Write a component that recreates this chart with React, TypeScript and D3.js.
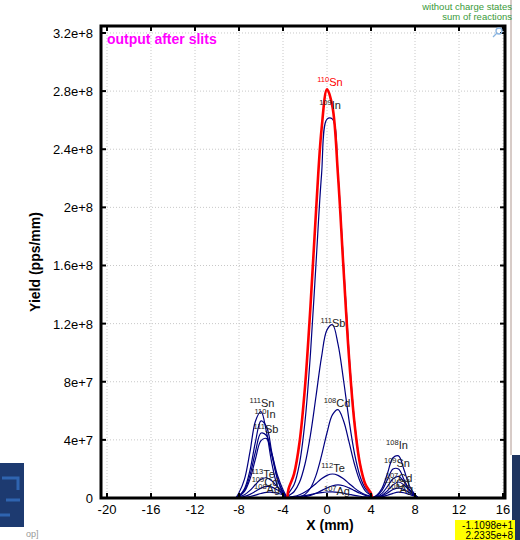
import React from "react";
import * as d3 from "d3";

const W = 520;
const H = 540;
const box = { left: 101, right: 505, top: 26, bottom: 498 };

const xTicks = [-20, -16, -12, -8, -4, 0, 4, 8, 12, 16];
const yTicks = [0, 4e7, 8e7, 1.2e8, 1.6e8, 2e8, 2.4e8, 2.8e8, 3.2e8];

// sample positions (mm) inside the three slit windows
const xLeft = [-8.3, -8, -7.5, -7, -6.5, -6, -5.5, -5, -4.5, -4, -3.6];
const xMid = [-3.6, -3.5, -3, -2.5, -2, -1.5, -1, -0.5, 0, 0.5, 1, 1.5, 2, 2.5, 3, 3.5, 4, 4.1];
const xRight = [4.0, 4.5, 5, 5.5, 6, 6.5, 7, 7.5, 8, 8.3];

// yields (pps/mm)
const sn110 = [0, 6.1e6, 1.64e7, 3.82e7, 7.65e7, 1.323e8, 1.971e8, 2.535e8, 2.812e8, 2.69e8, 2.219e8, 1.579e8, 9.69e7, 5.13e7, 2.34e7, 9.2e6, 3.1e6, 0];
const in109 = [0, 2.95e6, 9.05e6, 2.37e7, 5.27e7, 9.98e7, 1.613e8, 2.222e8, 2.607e8, 2.607e8, 2.222e8, 1.613e8, 9.98e7, 5.27e7, 2.37e7, 9.05e6, 2.95e6, 0];
const sb111 = [0, 1.5e6, 4.3e6, 1.08e7, 2.34e7, 4.36e7, 7.0e7, 9.69e7, 1.157e8, 1.192e8, 1.059e8, 8.12e7, 5.36e7, 3.06e7, 1.5e7, 6.4e6, 2.3e6, 0];
const cd108 = [0, 4e4, 1.9e5, 7.7e5, 2.5e6, 6.9e6, 1.56e7, 2.91e7, 4.49e7, 5.74e7, 6.08e7, 5.32e7, 3.86e7, 2.32e7, 1.15e7, 4.7e6, 1.6e6, 0];
const te112 = [0, 4.7e5, 1.08e6, 2.23e6, 4.1e6, 6.8e6, 1.0e7, 1.32e7, 1.56e7, 1.65e7, 1.56e7, 1.32e7, 1.0e7, 6.8e6, 4.1e6, 2.23e6, 1.08e6, 0];
const ag107 = [0, 3.4e5, 6.4e5, 1.08e6, 1.68e6, 2.4e6, 3.14e6, 3.76e6, 4.13e6, 4.17e6, 3.86e6, 3.27e6, 2.55e6, 1.82e6, 1.19e6, 7.1e5, 3.9e5, 0];
const midOther = [0, 5e4, 1.5e5, 4.0e5, 9.1e5, 1.83e6, 3.24e6, 5.07e6, 6.97e6, 8.44e6, 9.0e6, 8.44e6, 6.97e6, 5.07e6, 3.24e6, 1.83e6, 9.1e5, 0];

const sn111L = [0, 3.6e6, 1.3e7, 3.19e7, 5.3e7, 5.95e7, 4.53e7, 2.33e7, 8.1e6, 1.9e6, 0];
const in110L = [0, 1.46e6, 6.4e6, 1.92e7, 3.88e7, 5.31e7, 4.91e7, 3.07e7, 1.3e7, 3.7e6, 0];
const sb111L = [0, 1.26e6, 5.4e6, 1.58e7, 3.2e7, 4.47e7, 4.3e7, 2.86e7, 1.31e7, 4.1e6, 0];
const leftOther = [0, 1.08e6, 4.5e6, 1.3e7, 2.7e7, 3.95e7, 4.09e7, 2.99e7, 1.55e7, 5.7e6, 0];
const te113L = [0, 7.9e5, 2.3e6, 5.25e6, 9.3e6, 1.29e7, 1.39e7, 1.17e7, 7.6e6, 3.9e6, 0];
const cd109L = [0, 3.7e5, 1.08e6, 2.5e6, 4.6e6, 6.8e6, 7.96e6, 7.44e6, 5.5e6, 3.3e6, 0];
const ag108L = [0, 1.6e5, 4.5e5, 1.05e6, 2.0e6, 3.07e6, 3.85e6, 3.93e6, 3.27e6, 2.2e6, 0];

const in108R = [0, 1.68e6, 6.7e6, 1.7e7, 2.77e7, 2.9e7, 1.94e7, 8.3e6, 2.3e6, 0];
const sn109R = [0, 1.38e6, 5.2e6, 1.27e7, 1.99e7, 1.99e7, 1.27e7, 5.2e6, 1.38e6, 0];
const cd107R = [0, 8.9e5, 3.2e6, 8.0e6, 1.32e7, 1.49e7, 1.13e7, 5.8e6, 2.0e6, 0];
const cd110R = [0, 4.8e5, 1.9e6, 5.0e6, 9.0e6, 1.1e7, 9.0e6, 5.0e6, 1.9e6, 0];
const ag108R = [0, 4.4e5, 1.47e6, 3.5e6, 5.9e6, 7.0e6, 5.9e6, 3.5e6, 1.47e6, 0];
const rightOther = [0, 2.6e5, 8.2e5, 1.9e6, 3.2e6, 3.98e6, 3.6e6, 2.4e6, 1.2e6, 0];

// isotope label: [mass, symbol, x (mm), yield]
type Lab = [string, string, number, number] | null;
const series: { xs: number[]; ys: number[]; red?: boolean; lab: Lab }[] = [
  { xs: xMid, ys: in109, lab: ["109", "In", 0.27, 2.677e8] },
  { xs: xMid, ys: sb111, lab: ["111", "Sb", 0.55, 1.177e8] },
  { xs: xMid, ys: cd108, lab: ["108", "Cd", 0.91, 6.26e7] },
  { xs: xMid, ys: te112, lab: ["112", "Te", 0.55, 1.79e7] },
  { xs: xMid, ys: midOther, lab: null },
  { xs: xMid, ys: ag107, lab: ["107", "Ag", 0.91, 2.1e6] },
  { xs: xLeft, ys: sn111L, lab: ["111", "Sn", -5.91, 6.26e7] },
  { xs: xLeft, ys: in110L, lab: ["110", "In", -5.64, 5.5e7] },
  { xs: xLeft, ys: sb111L, lab: ["111", "Sb", -5.55, 4.47e7] },
  { xs: xLeft, ys: leftOther, lab: null },
  { xs: xLeft, ys: te113L, lab: ["113", "Te", -5.82, 1.38e7] },
  { xs: xLeft, ys: cd109L, lab: ["109", "Cd", -5.64, 8.3e6] },
  { xs: xLeft, ys: ag108L, lab: ["108", "Ag", -5.45, 3.4e6] },
  { xs: xRight, ys: in108R, lab: ["108", "In", 6.36, 3.37e7] },
  { xs: xRight, ys: sn109R, lab: ["109", "Sn", 6.36, 2.13e7] },
  { xs: xRight, ys: cd107R, lab: ["107", "Cd", 6.55, 1.1e7] },
  { xs: xRight, ys: cd110R, lab: ["110", "Cd", 6.36, 7.6e6] },
  { xs: xRight, ys: ag108R, lab: ["108", "Ag", 6.64, 3.4e6] },
  { xs: xRight, ys: rightOther, lab: null },
  { xs: xMid, ys: sn110, red: true, lab: ["110", "Sn", 0.27, 2.835e8] },
];

const FONT = "'Liberation Sans', Arial, sans-serif";

function fmtY(v: number) {
  return v === 0 ? "0" : v.toExponential();
}

export default function App() {
  const x = d3.scaleLinear().domain([-20.545, 16.18]).range([box.left, box.right]);
  const y = d3.scaleLinear().domain([0, 3.248e8]).range([box.bottom, box.top]);

  const line = d3
    .line<[number, number]>()
    .x((d) => x(d[0]))
    .y((d) => y(d[1]))
    .curve(d3.curveCatmullRom);

  return (
    <svg
      width={W}
      height={H}
      style={{ position: "absolute", left: 0, top: 0, background: "#fff" }}
      fontFamily={FONT}
    >
      {/* bits of the window behind the chart */}
      <line x1={511} y1={0} x2={511} y2={455} stroke="#b09890" strokeWidth={1} />
      <rect x={512} y={455} width={8} height={85} fill="#1f3560" />
      <rect x={0} y={463} width={24} height={64} fill="#1d3a70" />
      <path d="M2,478 h16 v12 M6,500 h14 M0,515 h10" stroke="#2f64b0" strokeWidth={3} fill="none" />
      <text x={26} y={537} fontSize={9} fill="#999">op]</text>

      <text x={512} y={10} fontSize={9.5} fill="#3a9a3a" textAnchor="end">without charge states</text>
      <text x={512} y={20} fontSize={9.5} fill="#3a9a3a" textAnchor="end">sum of reactions</text>

      {/* grid */}
      <g stroke="#c8c8c8" strokeWidth={1} strokeDasharray="1,2">
        {xTicks.map((t) => (
          <line key={"gx" + t} x1={x(t)} x2={x(t)} y1={box.top} y2={box.bottom} />
        ))}
        {yTicks.slice(1).map((t) => (
          <line key={"gy" + t} x1={box.left} x2={box.right} y1={y(t)} y2={y(t)} />
        ))}
      </g>

      <g clipPath="url(#plotclip)">
        <defs>
          <clipPath id="plotclip">
            <rect x={box.left} y={box.top} width={box.right - box.left} height={box.bottom - box.top} />
          </clipPath>
        </defs>
        {series.map((s, i) => (
          <path
            key={"s" + i}
            d={line(s.xs.map((v, j) => [v, s.ys[j]] as [number, number])) || ""}
            fill="none"
            stroke={s.red ? "#ff0000" : "#000080"}
            strokeWidth={s.red ? 2.6 : 1.2}
          />
        ))}
      </g>

      {series.map((s, i) =>
        s.lab ? (
          <text
            key={"l" + i}
            x={x(s.lab[2])}
            y={y(s.lab[3])}
            textAnchor="middle"
            fill={s.red ? "#ff0000" : "#222"}
          >
            <tspan fontSize={7.5} dy={-4}>{s.lab[0]}</tspan>
            <tspan fontSize={11} dy={4}>{s.lab[1]}</tspan>
          </text>
        ) : null
      )}

      {/* frame + inward ticks */}
      <rect
        x={box.left}
        y={box.top}
        width={box.right - box.left}
        height={box.bottom - box.top}
        fill="none"
        stroke="#000"
        strokeWidth={3}
      />
      <g stroke="#000" strokeWidth={2}>
        {xTicks.map((t) => (
          <g key={"tx" + t}>
            <line x1={x(t)} x2={x(t)} y1={box.bottom} y2={box.bottom - 5} />
            <line x1={x(t)} x2={x(t)} y1={box.top} y2={box.top + 5} />
          </g>
        ))}
        {yTicks.map((t) => (
          <g key={"ty" + t}>
            <line x1={box.left} x2={box.left + 5} y1={y(t)} y2={y(t)} />
            <line x1={box.right} x2={box.right - 5} y1={y(t)} y2={y(t)} />
          </g>
        ))}
      </g>

      {/* zoom glyph */}
      <g stroke="#8ab4e0" strokeWidth={1.3} fill="none">
        <circle cx={499} cy={31} r={3} />
        <line x1={497} y1={33} x2={493} y2={37} />
      </g>

      {xTicks.map((t) => (
        <text key={"xl" + t} x={x(t)} y={514} fontSize={13} textAnchor="middle" fill="#000">
          {t}
        </text>
      ))}
      {yTicks.map((t) => (
        <text key={"yl" + t} x={93} y={y(t) + 5} fontSize={13} textAnchor="end" fill="#000">
          {fmtY(t)}
        </text>
      ))}

      <text x={330} y={530} fontSize={14} fontWeight="bold" textAnchor="middle">X (mm)</text>
      <text
        transform={`translate(40,${(box.top + box.bottom) / 2}) rotate(-90)`}
        fontSize={14}
        fontWeight="bold"
        textAnchor="middle"
      >
        Yield (pps/mm)
      </text>

      <text x={107} y={44} fontSize={14} fontWeight="bold" fill="#ff00ff">output after slits</text>

      <rect x={455} y={520} width={60} height={20} fill="#ffff00" />
      <text x={513} y={529} fontSize={10} textAnchor="end">-1.1098e+1</text>
      <text x={513} y={539} fontSize={10} textAnchor="end">2.2335e+8</text>
    </svg>
  );
}
